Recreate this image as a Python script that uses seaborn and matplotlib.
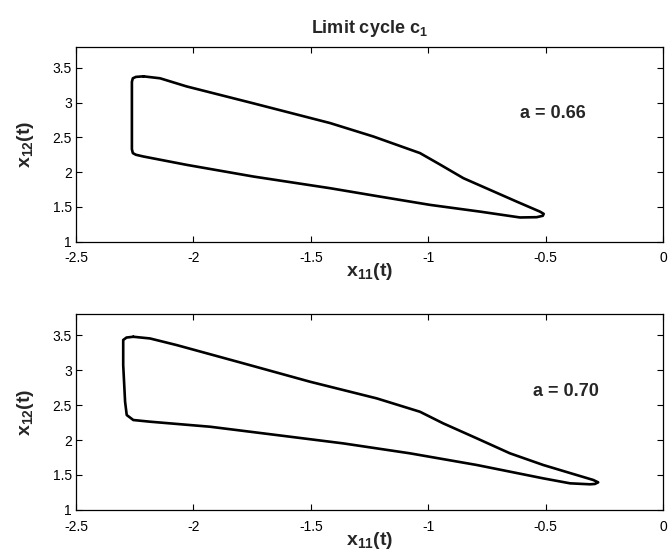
import numpy as np
import pandas as pd
import matplotlib
matplotlib.use("Agg")
import matplotlib.pyplot as plt
import seaborn as sns

# ---- data ----
# limit cycle for a = 0.66: traced around the loop
x_a066 = [-2.213, -2.142, -2.029, -1.745, -1.418, -1.234, -1.035, -0.950, -0.850, -0.623,
          -0.524, -0.508, -0.512, -0.538, -0.609, -0.779, -0.992, -1.205, -1.418, -1.745,
          -2.029, -2.213, -2.245, -2.258, -2.262, -2.262, -2.258, -2.245, -2.213]
y_a066 = [3.378, 3.350, 3.233, 2.990, 2.706, 2.513, 2.274, 2.110, 1.913, 1.576,
          1.432, 1.400, 1.372, 1.352, 1.348, 1.432, 1.529, 1.648, 1.769, 1.937,
          2.105, 2.225, 2.250, 2.274, 2.330, 3.300, 3.350, 3.370, 3.378]

# limit cycle for a = 0.70
x_a070 = [-2.256, -2.185, -2.071, -1.787, -1.503, -1.219, -1.035, -0.936, -0.793, -0.652,
          -0.510, -0.368, -0.297, -0.276, -0.290, -0.311, -0.396, -0.510, -0.793, -1.078,
          -1.362, -1.645, -1.929, -2.185, -2.256, -2.284, -2.291, -2.299, -2.299, -2.285,
          -2.256]
y_a070 = [3.476, 3.452, 3.357, 3.096, 2.833, 2.595, 2.404, 2.238, 2.024, 1.810,
          1.643, 1.500, 1.429, 1.395, 1.372, 1.367, 1.381, 1.452, 1.643, 1.810,
          1.952, 2.071, 2.190, 2.262, 2.286, 2.357, 2.547, 3.071, 3.430, 3.465,
          3.476]

labels = ["a = 0.66", "a = 0.70"]
label_pos = [(-0.468, 2.85), (-0.414, 2.69)]
xticks = [-2.5, -2, -1.5, -1, -0.5, 0]
yticks = [1, 1.5, 2, 2.5, 3, 3.5]

# ---- style ----
sns.set_style("ticks", {"xtick.direction": "in", "ytick.direction": "in",
                        "xtick.top": True, "ytick.right": True,
                        "axes.edgecolor": "black"})
plt.rcParams['font.family'] = ['Liberation Sans', 'DejaVu Sans']
plt.rcParams['mathtext.fontset'] = 'custom'
plt.rcParams['mathtext.rm'] = 'Liberation Sans'
plt.rcParams['mathtext.bf'] = 'Liberation Sans:bold'
plt.rcParams['mathtext.it'] = 'Liberation Sans:italic'
plt.rcParams['axes.unicode_minus'] = False

fig = plt.figure(figsize=(6.68, 5.53), dpi=100)
ax1 = fig.add_axes([0.1138, 0.563, 0.8787, 0.352])
ax2 = fig.add_axes([0.1138, 0.0778, 0.8787, 0.3542])

for ax, xs, ys, lab, pos in [(ax1, x_a066, y_a066, labels[0], label_pos[0]),
                              (ax2, x_a070, y_a070, labels[1], label_pos[1])]:
    df = pd.DataFrame({"x": xs, "y": ys})
    sns.lineplot(data=df, x="x", y="y", sort=False, estimator=None,
                 color="black", linewidth=1.9, ax=ax)
    ax.lines[-1].set_solid_joinstyle("round")
    ax.set_xlim(-2.5, 0)
    ax.set_ylim(1, 3.8)
    ax.set_xticks(xticks)
    ax.set_xticklabels(["-2.5", "-2", "-1.5", "-1", "-0.5", "0"])
    ax.set_yticks(yticks)
    ax.set_yticklabels(["1", "1.5", "2", "2.5", "3", "3.5"])
    ax.tick_params(axis="both", which="both", direction="in", length=4,
                   width=0.8, labelsize=10, colors="black")
    ax.tick_params(axis="x", pad=7)
    ax.tick_params(axis="y", pad=3)
    for s in ax.spines.values():
        s.set_linewidth(0.9)
        s.set_color("black")
    ax.set_xlabel(r"$\mathbf{x_{11}(t)}$", fontsize=14, labelpad=-3)
    ax.set_ylabel(r"$\mathbf{x_{12}(t)}$", fontsize=14, labelpad=12)
    ax.text(pos[0], pos[1], lab, fontsize=13, fontweight="bold",
            ha="center", va="center")

ax1.set_title(r"$\mathbf{Limit\ cycle\ c_1}$", fontsize=13, pad=10)

fig.savefig("out.png", dpi=100)
